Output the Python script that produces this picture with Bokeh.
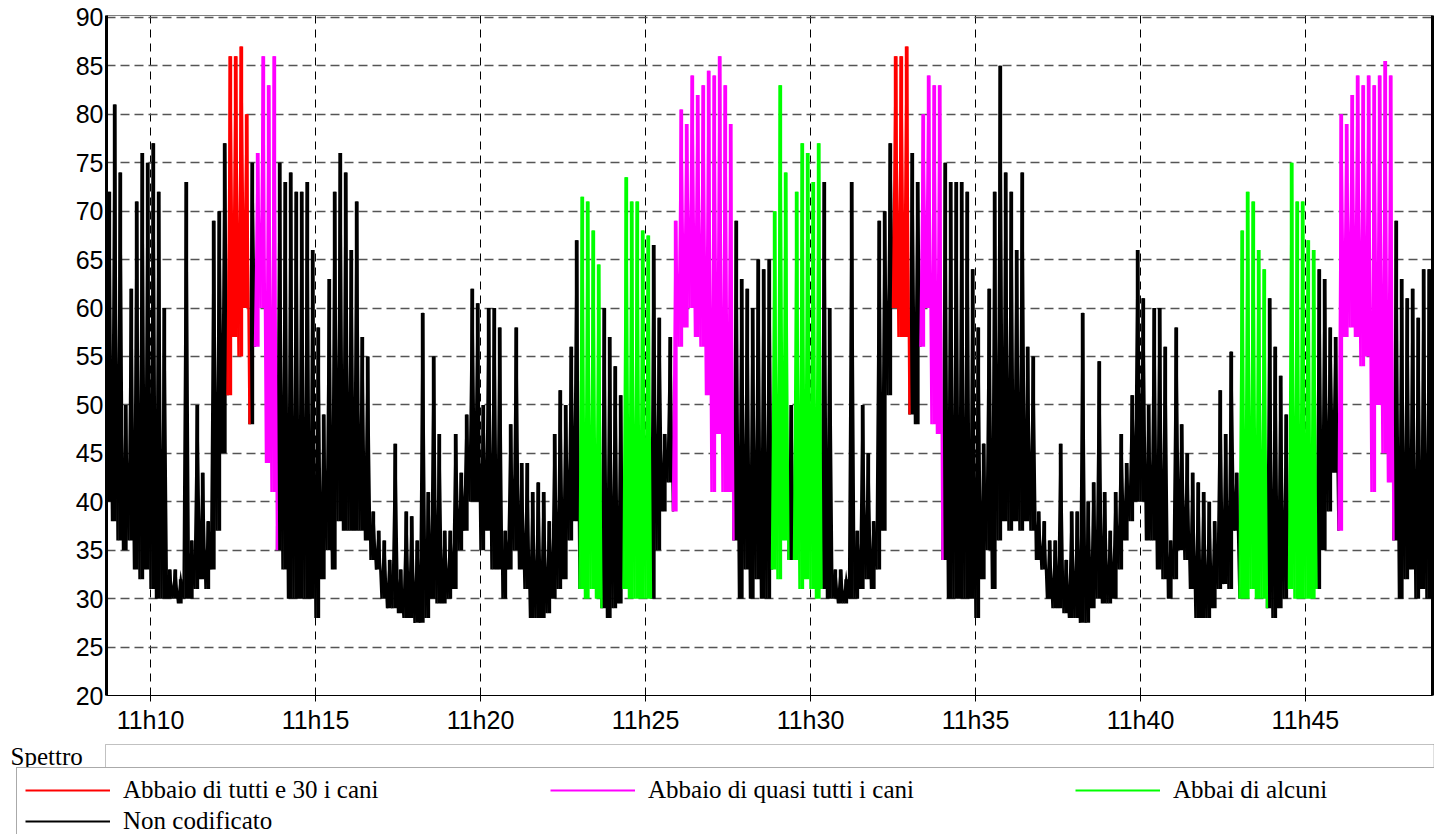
from bokeh.plotting import figure
from bokeh.models import (Range1d, FixedTicker, LinearAxis, Legend, LegendItem,
                          BoxAnnotation, Label)
from bokeh.embed import file_html
from bokeh.resources import INLINE

# ---------------- data ----------------
# time of first sample in minutes after 11:00 (11:08:40), one min/max pair every 10 s
t0_min = 8 + 40 / 60
step_min = 10 / 60

lo_db = [
    40, 38, 36, 35, 36, 33, 32, 33, 31, 30, 30, 30, 30, 29.5, 30, 30, 31, 32, 31, 33,
    37, 45, 51, 57, 55, 60, 48, 56, 60, 44, 41, 35, 33, 30, 30, 30, 30, 30, 28, 32,
    35, 33, 38, 37, 37, 37, 37, 36, 34, 33, 30, 29, 29, 28.5, 28, 28, 27.5, 27.5, 28, 30,
    29.5, 29.5, 30, 31, 35, 37, 40, 40, 35, 37, 33, 33, 30, 33, 35, 33, 31, 28, 28, 28,
    28.5, 30, 31, 32, 36, 38, 31, 30, 31, 30, 29, 28, 29, 29.5, 31, 30, 30, 30, 30, 30,
    35, 39, 42, 39, 56, 58, 60, 57, 56, 51, 41, 47, 41, 41, 36, 30, 33, 30, 32, 30,
    30, 33, 32, 36, 34, 34, 31, 32, 31, 30, 31, 30, 30, 29.5, 29.5, 30, 30, 31, 32, 31,
    33, 37, 51, 60, 57, 57, 49, 48, 56, 60, 48, 47, 34, 30, 30, 30, 30, 30, 28, 32,
    35, 31, 36, 38, 37, 38, 37, 38, 37, 34, 33, 30, 29, 29, 28.5, 28, 28, 27.5, 27.5, 29,
    30, 29.5, 29.5, 30, 33, 36, 38, 40, 40, 36, 36, 33, 32, 30, 32, 35, 34, 31, 28, 28,
    28, 29, 31, 31.5, 31, 37, 30, 30, 31, 30, 30, 29, 28, 29, 30, 31, 30, 30, 30, 30,
    31, 35, 39, 43, 37, 57, 58, 57, 54, 55, 41, 50, 45, 42, 36, 30, 32, 33, 30, 31,
    30, 35,
]
hi_db = [
    72, 81, 74, 50, 62, 71, 76, 75, 77, 72, 60, 33, 33, 32, 73, 36, 50, 43, 38, 69,
    70, 77, 86, 86, 87, 80, 75, 76, 86, 83, 86, 75, 73, 74, 72, 72, 73, 66, 58, 49,
    63, 72, 76, 74, 66, 71, 57, 55, 39, 37, 36, 34, 46, 33, 39, 38.5, 36, 59.5, 41, 55,
    47, 37, 37, 47, 43, 49, 62, 60.5, 50, 60, 60, 58, 37, 48, 58, 44, 44, 41, 42, 41,
    38, 47, 51.5, 50, 56, 67, 71.5, 71, 68, 64.5, 60, 57, 54, 51, 73.5, 71, 71, 68, 67.5, 66.5,
    59, 47, 57, 69, 80.5, 79, 84, 82, 83, 84.5, 84, 86, 83, 79, 69, 63, 62, 60, 65, 64,
    65, 70, 83, 74, 50, 72, 77, 76, 73, 77, 73, 60, 33, 33, 32, 73, 37, 50, 45, 38,
    69, 70, 77, 86, 86, 87, 76, 73, 80, 84, 83, 83, 75, 73, 73, 73, 72, 64, 58, 46,
    62, 72, 85, 74, 72, 66, 74, 56, 55, 39, 38, 36, 36, 46, 34, 39, 39, 59.5, 40, 42,
    54.5, 41, 37, 41, 47, 44, 51, 66, 61, 50, 60, 60, 56, 36, 58, 48, 45, 43, 42, 41,
    40, 38, 51.5, 47, 55.5, 43, 68, 72, 71, 66, 64, 61, 56, 53, 49, 75, 71, 71, 67, 66,
    64, 63, 58, 57, 80, 79, 82, 84, 83, 84, 83, 84, 85.5, 84, 69, 63, 61, 62, 59, 64,
    64, 65,
]

# coding of the recording: (first 10-s slot, category code)
segment_start = [0, 22, 26, 27, 31, 86, 90, 94, 99, 103, 114, 121, 124, 125, 130,
                 143, 146, 148, 152, 206, 211, 215, 220, 224, 234]
segment_code = ["N", "R", "N", "M", "N", "G", "N", "G", "N", "M", "N", "G", "N", "G", "N",
                "R", "N", "M", "N", "G", "N", "G", "N", "M", "N"]

cat_codes = ["R", "M", "G", "N"]
cat_labels = ["Abbaio di tutti e 30 i cani", "Abbaio di quasi tutti i cani",
              "Abbai di alcuni", "Non codificato"]
cat_colors = ["#ff0000", "#ff00ff", "#00ff00", "#000000"]

x_ticks = [10, 15, 20, 25, 30, 35, 40, 45]
x_tick_labels = ["11h10", "11h15", "11h20", "11h25", "11h30", "11h35", "11h40", "11h45"]
y_ticks = [20, 25, 30, 35, 40, 45, 50, 55, 60, 65, 70, 75, 80, 85, 90]

# ---------------- build runs (zigzag min/max trace) and per-slot envelopes ----------------
n = len(lo_db)
runs = {c: ([], []) for c in cat_codes}
env = {c: {"x": [], "lo": [], "hi": []} for c in cat_codes}
for k, start in enumerate(segment_start):
    end = segment_start[k + 1] if k + 1 < len(segment_start) else n
    code = segment_code[k]
    xs, ys = [], []
    for i in range(start, end):
        t = t0_min + i * step_min
        xs += [t, t + step_min / 2]
        ys += [lo_db[i], hi_db[i]]
        env[code]["x"].append(t + step_min / 2)
        env[code]["lo"].append(lo_db[i])
        env[code]["hi"].append(hi_db[i])
    if end < n:
        xs.append(t0_min + end * step_min)
        ys.append(lo_db[end])
    runs[code][0].append(xs)
    runs[code][1].append(ys)

# ---------------- main figure ----------------
FONT = "Liberation Sans"
SERIF = "Liberation Serif"
p = figure(width=1434, height=743, output_backend="svg", toolbar_location=None,
           x_range=Range1d(t0_min, 48.85), y_range=Range1d(20, 90.2),
           min_border_left=106, min_border_top=15, min_border_bottom=48, min_border_right=2)
p.background_fill_color = "white"
p.border_fill_color = "white"
p.outline_line_color = "#808080"
p.outline_line_width = 1

p.xaxis.ticker = FixedTicker(ticks=x_ticks)
p.xaxis.major_label_overrides = dict(zip(x_ticks, x_tick_labels))
p.xaxis.minor_tick_line_color = None
p.xaxis.major_tick_out = 6
p.xaxis.major_tick_in = 0
p.xaxis.major_label_standoff = 4
p.xaxis.axis_line_color = "black"
p.xaxis.major_label_text_font = FONT
p.xaxis.major_label_text_font_size = "25px"
p.xaxis.major_label_text_color = "black"

p.yaxis.ticker = FixedTicker(ticks=y_ticks)
p.yaxis.minor_tick_line_color = None
p.yaxis.major_tick_out = 0
p.yaxis.major_tick_in = 0
p.yaxis.major_label_standoff = 3
p.yaxis.axis_line_width = 3
p.yaxis.axis_line_color = "black"
p.yaxis.major_label_text_font = FONT
p.yaxis.major_label_text_font_size = "25px"
p.yaxis.major_label_text_color = "black"

right_axis = LinearAxis(ticker=FixedTicker(ticks=[]), axis_line_width=3, axis_line_color="black",
                        major_tick_out=0, major_tick_in=0, minor_tick_out=0, minor_tick_in=0,
                        major_label_standoff=0, major_label_text_font_size="0px")
p.add_layout(right_axis, "right")

p.xgrid.ticker = FixedTicker(ticks=x_ticks)
p.xgrid.grid_line_color = "black"
p.xgrid.grid_line_dash = "8 6"
p.xgrid.grid_line_width = 1
p.ygrid.ticker = FixedTicker(ticks=y_ticks)
p.ygrid.grid_line_color = "#555555"
p.ygrid.grid_line_dash = "9 5"
p.ygrid.grid_line_width = 1.3

renderers = {}
for c in ["N", "R", "M", "G"]:
    col = cat_colors[cat_codes.index(c)]
    p.vbar(x=env[c]["x"], bottom=env[c]["lo"], top=env[c]["hi"], width=step_min * 0.7,
           fill_color=col, line_color=None)
    renderers[c] = p.multi_line(xs=runs[c][0], ys=runs[c][1], line_color=col,
                                line_width=2.4, line_join="miter")

# ---------------- bottom strip: "Spettro" + legend (pixel coordinates) ----------------
fb = figure(width=1434, height=91, output_backend="svg", toolbar_location=None,
            x_range=Range1d(0, 1434), y_range=Range1d(91, 0),
            x_axis_type=None, y_axis_type=None, min_border=0)
fb.outline_line_color = None
fb.grid.visible = False
fb.background_fill_color = "white"
fb.border_fill_color = "white"

fb.add_layout(BoxAnnotation(left=105, right=1433.5, top=1, bottom=28, fill_color=None,
                            line_color="#333333", line_width=1))
fb.add_layout(Label(x=10, y=13, text="Spettro", text_font=SERIF, text_font_size="25px",
                    text_baseline="middle", text_color="black"))

# legend samples: the same series, kept hidden in this strip (the chart above shows them)
leg_items = []
for c, lab, col in zip(cat_codes, cat_labels, cat_colors):
    r = fb.multi_line(xs=runs[c][0], ys=runs[c][1], line_color=col, line_width=2.2,
                      visible=False)
    leg_items.append(LegendItem(label=lab, renderers=[r]))

legend = Legend(items=leg_items, location=(16, -10), orientation="horizontal", ncols=3,
                glyph_width=85, glyph_height=26, label_height=26, label_width=424,
                label_standoff=13, spacing=3, padding=8,
                label_text_font=SERIF, label_text_font_size="25px",
                label_text_color="black", border_line_color="#555555", border_line_width=1.5,
                background_fill_color="white", background_fill_alpha=1.0,
                inactive_fill_alpha=0.0)
fb.add_layout(legend, "center")

open("out.html", "w").write(file_html((p, fb), INLINE))
